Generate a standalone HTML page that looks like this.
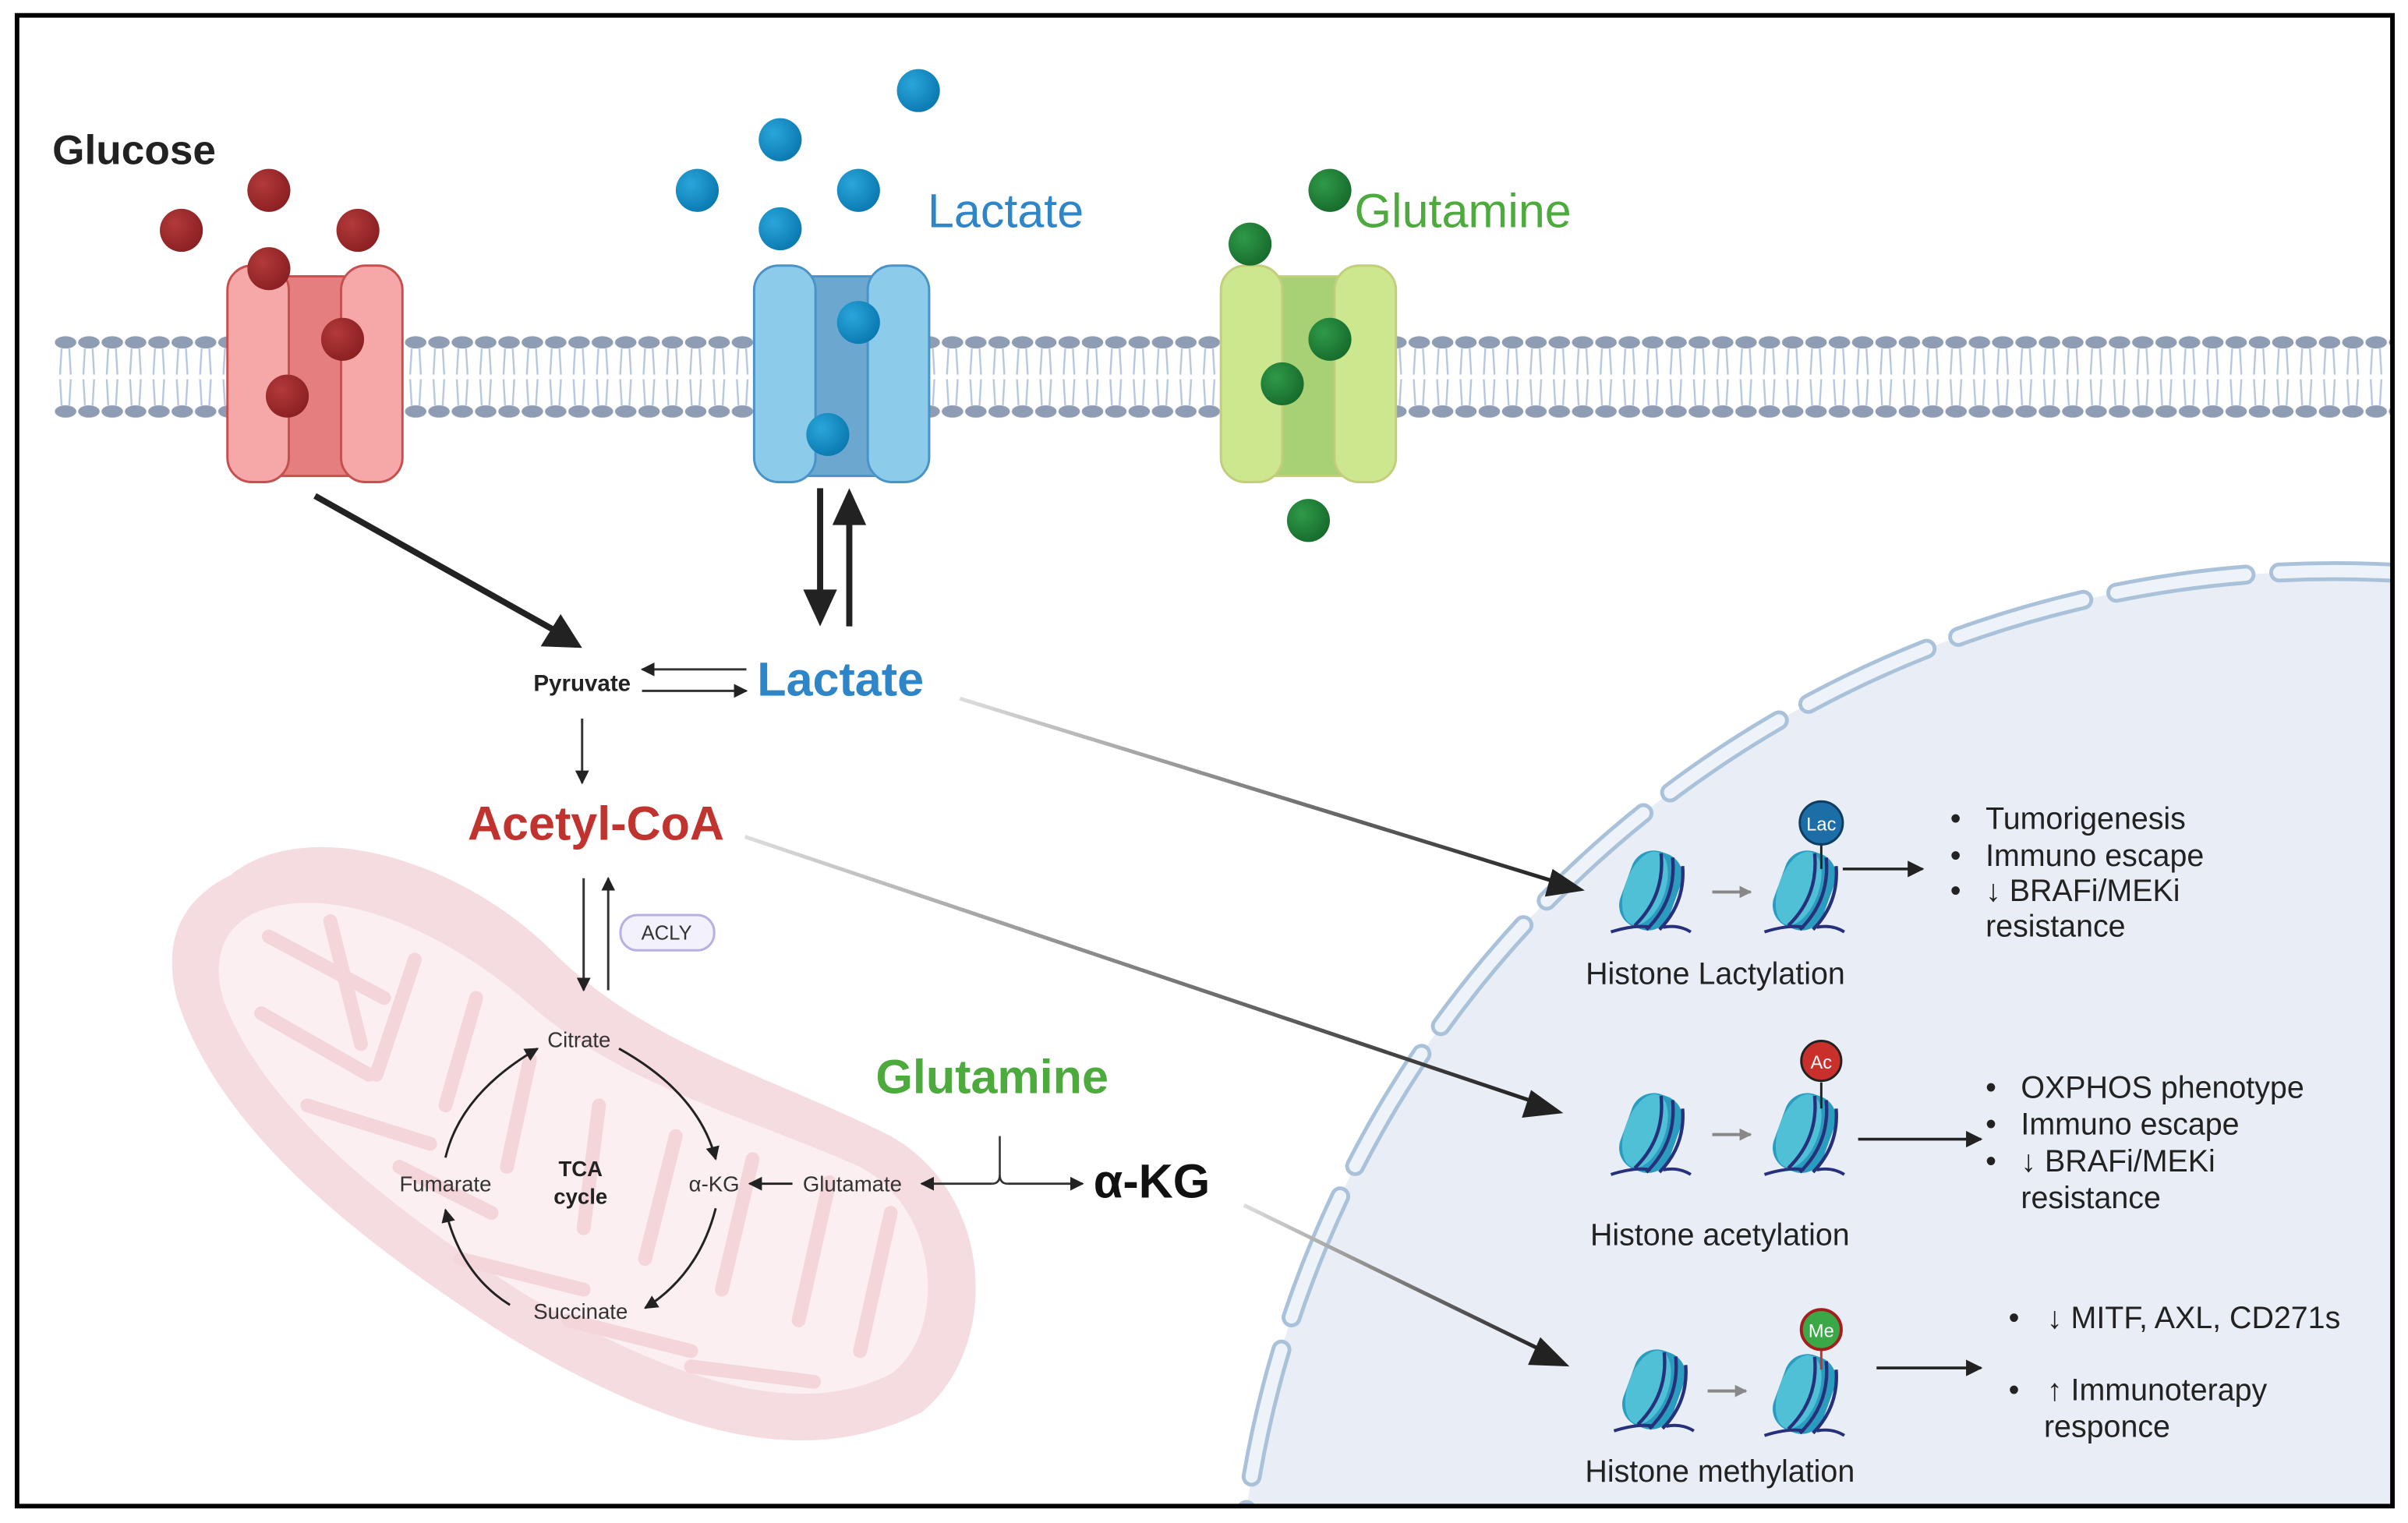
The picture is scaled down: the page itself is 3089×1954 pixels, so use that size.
<!DOCTYPE html>
<html><head><meta charset="utf-8"><style>
html,body{margin:0;padding:0;background:#fff;width:3089px;height:1954px;overflow:hidden;}
svg{display:block;}
text{font-family:"Liberation Sans",sans-serif;}
</style></head><body>
<svg width="3089" height="1954" viewBox="0 0 1568 992" xmlns="http://www.w3.org/2000/svg">
<defs>
<pattern id="mem" x="35" y="214" width="15.2" height="60" patternUnits="userSpaceOnUse">
<ellipse cx="7.6" cy="9" rx="7" ry="4" fill="#8e9cb4"/>
<ellipse cx="7.6" cy="54" rx="7" ry="4" fill="#8e9cb4"/>
<path d="M5 13 L4 30 M10 13 L11 30 M5 50 L4 33 M10 50 L11 33" stroke="#b5c6e0" stroke-width="1.2" fill="none"/>
</pattern>
<radialGradient id="red" cx="0.35" cy="0.35" r="0.7"><stop offset="0" stop-color="#b33a3a"/><stop offset="1" stop-color="#8a1f22"/></radialGradient>
<radialGradient id="blue" cx="0.35" cy="0.35" r="0.7"><stop offset="0" stop-color="#2aa6dc"/><stop offset="1" stop-color="#0a79b0"/></radialGradient>
<radialGradient id="green" cx="0.35" cy="0.35" r="0.7"><stop offset="0" stop-color="#2f9a48"/><stop offset="1" stop-color="#176b2c"/></radialGradient>
<linearGradient id="g1" x1="0" y1="0" x2="1" y2="0"><stop offset="0" stop-color="#ddd"/><stop offset="1" stop-color="#222"/></linearGradient>
<marker id="ah" viewBox="0 0 10 10" refX="9" refY="5" markerWidth="6" markerHeight="6" orient="auto"><path d="M0 0 L10 5 L0 10z" fill="#222"/></marker>
<marker id="ahg" viewBox="0 0 10 10" refX="9" refY="5" markerWidth="4" markerHeight="4" orient="auto"><path d="M0 0 L10 5 L0 10z" fill="#888"/></marker>
<g id="nuc">
<g transform="rotate(20)">
<rect x="-17" y="-26" width="34" height="52" rx="15" fill="#2a9cc0"/>
<ellipse cx="-4" cy="0" rx="13" ry="25" fill="#4fc0d6"/>
<path d="M-2 -25 Q10 0 -2 25 M6 -25 Q18 0 6 25 M14 -22 Q24 0 14 22" stroke="#27307a" stroke-width="2.2" fill="none"/>
</g>
<path d="M-26 27 Q-10 22 0 24 M8 24 Q18 22 26 27" stroke="#27307a" stroke-width="2" fill="none"/>
</g>
<clipPath id="cp"><rect x="12" y="12" width="1545" height="968"/></clipPath>
</defs>
<rect x="0" y="0" width="1568" height="992" fill="#fff"/>
<g clip-path="url(#cp)">
<ellipse cx="1520" cy="1080" rx="715" ry="708" fill="#e9eef6"/>
<ellipse cx="1520" cy="1080" rx="715" ry="708" fill="none" stroke="#a9c2da" stroke-width="13" stroke-dasharray="85 22" stroke-linecap="round"/>
<ellipse cx="1520" cy="1080" rx="715" ry="708" fill="none" stroke="#eef3f9" stroke-width="8" stroke-dasharray="85 22" stroke-linecap="round"/>
</g>
<path d="M150 570 C200 530 300 560 360 620 C420 680 500 700 580 740 C650 780 650 880 600 920 C520 960 430 930 330 870 C220 800 140 730 115 650 C105 610 120 585 150 570 Z" fill="#f5dce0"/>
<path d="M165 595 C210 575 280 600 340 650 C400 705 480 725 560 760 C615 790 615 870 580 895 C520 925 440 900 345 845 C250 785 170 720 145 650 C138 625 145 605 165 595 Z" fill="#fbeff1"/>
<path d="M175 610 L250 650 M215 600 L235 680 M270 625 L245 700 M310 650 L290 720 M345 690 L330 760 M170 660 L240 700 M200 720 L280 745 M260 760 L320 790 M390 720 L380 800 M440 740 L420 820 M490 755 L470 840 M540 770 L520 860 M580 790 L560 880 M300 820 L380 840 M370 860 L450 880 M450 890 L530 900" stroke="#f3d5da" stroke-width="9" stroke-linecap="round" fill="none"/>
<rect x="35" y="214" width="1523" height="60" fill="url(#mem)"/>
<g stroke="#c5504f" stroke-width="1.5">
<rect x="183" y="180" width="44" height="130" fill="#e57f7f"/>
<rect x="148" y="173" width="40" height="141" rx="16" fill="#f6a7a7"/>
<rect x="222" y="173" width="40" height="141" rx="16" fill="#f6a7a7"/>
</g>
<g stroke="#c3ce7c" stroke-width="1.5">
<rect x="830" y="180" width="44" height="130" fill="#a7d174"/>
<rect x="795" y="173" width="40" height="141" rx="16" fill="#cce78e"/>
<rect x="869" y="173" width="40" height="141" rx="16" fill="#cce78e"/>
</g>
<g stroke="#4a93c8" stroke-width="1.5">
<rect x="526" y="180" width="44" height="130" fill="#6ca7cf"/>
<rect x="491" y="173" width="40" height="141" rx="16" fill="#8dcbea"/>
<rect x="565" y="173" width="40" height="141" rx="16" fill="#8dcbea"/>
</g>
<g fill="url(#red)"><circle cx="175" cy="124" r="14"/><circle cx="118" cy="150" r="14"/><circle cx="233" cy="150" r="14"/><circle cx="175" cy="175" r="14"/><circle cx="223" cy="221" r="14"/><circle cx="187" cy="258" r="14"/></g>
<g fill="url(#blue)"><circle cx="598" cy="59" r="14"/><circle cx="508" cy="91" r="14"/><circle cx="454" cy="124" r="14"/><circle cx="559" cy="124" r="14"/><circle cx="508" cy="149" r="14"/><circle cx="559" cy="210" r="14"/><circle cx="539" cy="283" r="14"/></g>
<g fill="url(#green)"><circle cx="866" cy="124" r="14"/><circle cx="814" cy="159" r="14"/><circle cx="866" cy="221" r="14"/><circle cx="835" cy="250" r="14"/><circle cx="852" cy="339" r="14"/></g>
<text x="34" y="107" font-size="27" font-weight="bold" fill="#222">Glucose</text>
<text x="604" y="148" font-size="31" fill="#2e86c8">Lactate</text>
<text x="882" y="148" font-size="31" fill="#4daa3c">Glutamine</text>
<line x1="205" y1="323" x2="360" y2="410" stroke="#222" stroke-width="4"/>
<path d="M379 422 L352 421 L365 400 Z" fill="#222"/>
<line x1="534" y1="318" x2="534" y2="385" stroke="#222" stroke-width="4"/>
<path d="M523 384 L545 384 L534 408 Z" fill="#222"/>
<line x1="553" y1="408" x2="553" y2="340" stroke="#222" stroke-width="4"/>
<path d="M542 342 L564 342 L553 318 Z" fill="#222"/>
<text x="379" y="450" font-size="15" font-weight="bold" fill="#222" text-anchor="middle">Pyruvate</text>
<line x1="486" y1="436" x2="418" y2="436" stroke="#333" stroke-width="1.5" marker-end="url(#ah)"/>
<line x1="418" y1="450" x2="486" y2="450" stroke="#333" stroke-width="1.5" marker-end="url(#ah)"/>
<text x="493" y="453" font-size="31" font-weight="bold" fill="#2e86c8">Lactate</text>
<line x1="379" y1="468" x2="379" y2="510" stroke="#333" stroke-width="1.5" marker-end="url(#ah)"/>
<text x="388" y="547" font-size="31" font-weight="bold" fill="#c0332e" text-anchor="middle">Acetyl-CoA</text>
<line x1="380" y1="572" x2="380" y2="645" stroke="#333" stroke-width="1.5" marker-end="url(#ah)"/>
<line x1="396" y1="645" x2="396" y2="572" stroke="#333" stroke-width="1.5" marker-end="url(#ah)"/>
<rect x="404" y="596" width="61" height="23" rx="11" fill="#f3f1fb" stroke="#b7b0e0" stroke-width="1.5"/>
<text x="434" y="612" font-size="13" fill="#333" text-anchor="middle">ACLY</text>
<text x="377" y="682" font-size="14" fill="#333" text-anchor="middle">Citrate</text>
<text x="465" y="776" font-size="14" fill="#333" text-anchor="middle">α-KG</text>
<text x="378" y="859" font-size="14" fill="#333" text-anchor="middle">Succinate</text>
<text x="290" y="776" font-size="14" fill="#333" text-anchor="middle">Fumarate</text>
<text x="378" y="766" font-size="14" font-weight="bold" fill="#222" text-anchor="middle">TCA</text>
<text x="378" y="784" font-size="14" font-weight="bold" fill="#222" text-anchor="middle">cycle</text>
<g stroke="#222" stroke-width="1.5" fill="none" marker-end="url(#ah)">
<path d="M403 683 Q455 712 466 755"/>
<path d="M466 787 Q455 830 420 852"/>
<path d="M332 850 Q300 830 290 788"/>
<path d="M290 754 Q300 712 350 683"/>
</g>
<text x="555" y="776" font-size="14" fill="#333" text-anchor="middle">Glutamate</text>
<line x1="516" y1="771" x2="488" y2="771" stroke="#222" stroke-width="1.5" marker-end="url(#ah)"/>
<text x="646" y="712" font-size="31" font-weight="bold" fill="#4daa3c" text-anchor="middle">Glutamine</text>
<path d="M651 740 L651 765 Q651 771 656 771 M651 765 Q651 771 646 771" stroke="#333" stroke-width="1.3" fill="none"/>
<line x1="646" y1="771" x2="600" y2="771" stroke="#333" stroke-width="1.5" marker-end="url(#ah)"/>
<line x1="656" y1="771" x2="705" y2="771" stroke="#333" stroke-width="1.5" marker-end="url(#ah)"/>
<text x="750" y="780" font-size="31" font-weight="bold" fill="#111" text-anchor="middle">α-KG</text>
<line x1="625" y1="455" x2="1015" y2="575" stroke="url(#g1)" stroke-width="2.5"/>
<path d="M1032 580 L1011 566 L1006 584 Z" fill="#222"/>
<line x1="485" y1="545" x2="1000" y2="718" stroke="url(#g1)" stroke-width="2.5"/>
<path d="M1018 725 L997 710 L991 728 Z" fill="#222"/>
<line x1="810" y1="785" x2="1005" y2="880" stroke="url(#g1)" stroke-width="2.5"/>
<path d="M1022 890 L1003 871 L995 889 Z" fill="#222"/>
<use href="#nuc" x="1075" y="580"/><use href="#nuc" x="1175" y="580"/>
<use href="#nuc" x="1075" y="738"/><use href="#nuc" x="1175" y="738"/>
<use href="#nuc" x="1077" y="905"/><use href="#nuc" x="1175" y="908"/>
<g stroke="#888" stroke-width="2" marker-end="url(#ahg)">
<line x1="1115" y1="581" x2="1140" y2="581"/><line x1="1115" y1="739" x2="1140" y2="739"/><line x1="1112" y1="906" x2="1137" y2="906"/>
</g>
<line x1="1186" y1="550" x2="1186" y2="566" stroke="#222" stroke-width="1.5"/>
<circle cx="1186" cy="536" r="14" fill="#1d6ea6" stroke="#0f3d60" stroke-width="1.5"/>
<text x="1186" y="541" font-size="12" fill="#fff" text-anchor="middle">Lac</text>
<line x1="1186" y1="705" x2="1186" y2="722" stroke="#222" stroke-width="1.5"/>
<circle cx="1186" cy="691" r="13" fill="#c9302c" stroke="#222" stroke-width="1.5"/>
<text x="1186" y="696" font-size="12" fill="#fff" text-anchor="middle">Ac</text>
<line x1="1186" y1="879" x2="1186" y2="892" stroke="#c9302c" stroke-width="1.5"/>
<circle cx="1186" cy="866" r="13" fill="#3aa847" stroke="#a51d1d" stroke-width="2"/>
<text x="1186" y="871" font-size="12" fill="#fff" text-anchor="middle">Me</text>
<g stroke="#222" stroke-width="1.8" marker-end="url(#ah)">
<line x1="1200" y1="566" x2="1252" y2="566"/>
<line x1="1210" y1="742" x2="1290" y2="742"/>
<line x1="1222" y1="891" x2="1290" y2="891"/>
</g>
<g font-size="20" fill="#222">
<text x="1117" y="641" text-anchor="middle">Histone Lactylation</text>
<text x="1120" y="811" text-anchor="middle">Histone acetylation</text>
<text x="1120" y="965" text-anchor="middle">Histone methylation</text>
<text x="1270" y="540">•</text><text x="1293" y="540">Tumorigenesis</text>
<text x="1270" y="564">•</text><text x="1293" y="564">Immuno escape</text>
<text x="1270" y="587">•</text><text x="1293" y="587">↓ BRAFi/MEKi</text>
<text x="1293" y="610">resistance</text>
<text x="1293" y="715">•</text><text x="1316" y="715">OXPHOS phenotype</text>
<text x="1293" y="739">•</text><text x="1316" y="739">Immuno escape</text>
<text x="1293" y="763">•</text><text x="1316" y="763">↓ BRAFi/MEKi</text>
<text x="1316" y="787">resistance</text>
<text x="1308" y="865">•</text><text x="1333" y="865">↓ MITF, AXL, CD271s</text>
<text x="1308" y="912">•</text><text x="1333" y="912">↑ Immunoterapy</text>
<text x="1331" y="936">responce</text>
</g>
<rect x="11" y="10" width="1547" height="971" fill="none" stroke="#000" stroke-width="3"/>
</svg>
</body></html>
